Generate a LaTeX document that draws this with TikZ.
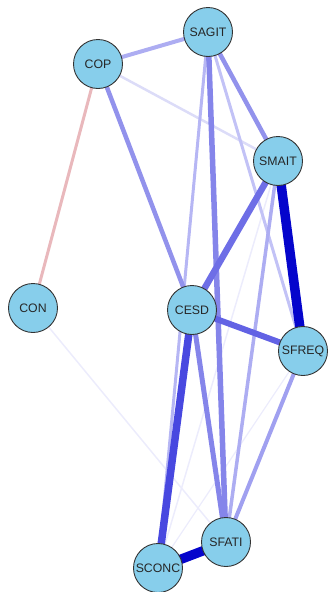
\documentclass[tikz,border=0pt]{standalone}
\usepackage{fontspec}
\setmainfont{Liberation Sans}
\usepackage{tikz}
\usetikzlibrary{backgrounds}
\definecolor{nodeblue}{HTML}{87CEEB}
\definecolor{negred}{HTML}{E9B8BC}
\definecolor{wa}{HTML}{ECECFC}
\definecolor{wb}{HTML}{DCDCF8}
\definecolor{wc}{HTML}{C2C2F6}
\definecolor{wd}{HTML}{B6B6F4}
\definecolor{we}{HTML}{ADADF2}
\definecolor{wf}{HTML}{A0A0F0}
\definecolor{wg}{HTML}{9292EC}
\definecolor{wh}{HTML}{8585EA}
\definecolor{wi}{HTML}{6E6EE6}
\definecolor{wj}{HTML}{6262E4}
\definecolor{wk}{HTML}{4848E0}
\definecolor{wl}{HTML}{0505CC}

\begin{document}
\begin{tikzpicture}[x=1pt, y=-1pt,
  vertex/.style={circle, draw=black!80, fill=nodeblue, line width=0.9pt,
    minimum size=49pt, inner sep=0pt, text=black!85,
    font=\fontsize{12.3}{13}\selectfont},
  link/.style 2 args={draw=#1, line width=#2pt}]
\useasboundingbox (0,0) rectangle (327,592);

\node[vertex] (SAGIT) at (208,32) {SAGIT};
\node[vertex] (COP) at (98,64) {COP};
\node[vertex] (SMAIT) at (278,161) {SMAIT};
\node[vertex] (CON) at (33,308) {CON};
\node[vertex] (CESD) at (192,310) {CESD};
\node[vertex] (SFREQ) at (303,351) {SFREQ};
\node[vertex] (SFATI) at (226,542) {SFATI};
\node[vertex] (SCONC) at (158,568) {SCONC};

\begin{scope}[on background layer]
\draw
	(CON.center) edge[link={wa}{1.5}] (SFATI.center)
	(SFREQ.center) edge[link={wa}{1.2}] (SCONC.center)
	(SMAIT.center) edge[link={wa}{1.5}] (SCONC.center)
	(COP.center) edge[link={wb}{2.5}] (SMAIT.center)
	(COP.center) edge[link={negred}{3}] (CON.center)
	(SAGIT.center) edge[link={wc}{3}] (SFREQ.center)
	(SAGIT.center) edge[link={wd}{3}] (SCONC.center)
	(SMAIT.center) edge[link={we}{3.5}] (SFATI.center)
	(SFREQ.center) edge[link={wf}{4}] (SFATI.center)
	(COP.center) edge[link={we}{4}] (SAGIT.center)
	(COP.center) edge[link={wg}{4.5}] (CESD.center)
	(SAGIT.center) edge[link={wg}{4.5}] (SMAIT.center)
	(CESD.center) edge[link={wh}{5}] (SFATI.center)
	(SAGIT.center) edge[link={wh}{5.5}] (SFATI.center)
	(SMAIT.center) edge[link={wi}{6.5}] (CESD.center)
	(CESD.center) edge[link={wj}{6}] (SFREQ.center)
	(CESD.center) edge[link={wk}{7.5}] (SCONC.center)
	(SMAIT.center) edge[link={wl}{9.5}] (SFREQ.center)
	(SFATI.center) edge[link={wl}{9.5}] (SCONC.center)
;
\end{scope}
\end{tikzpicture}
\end{document}
